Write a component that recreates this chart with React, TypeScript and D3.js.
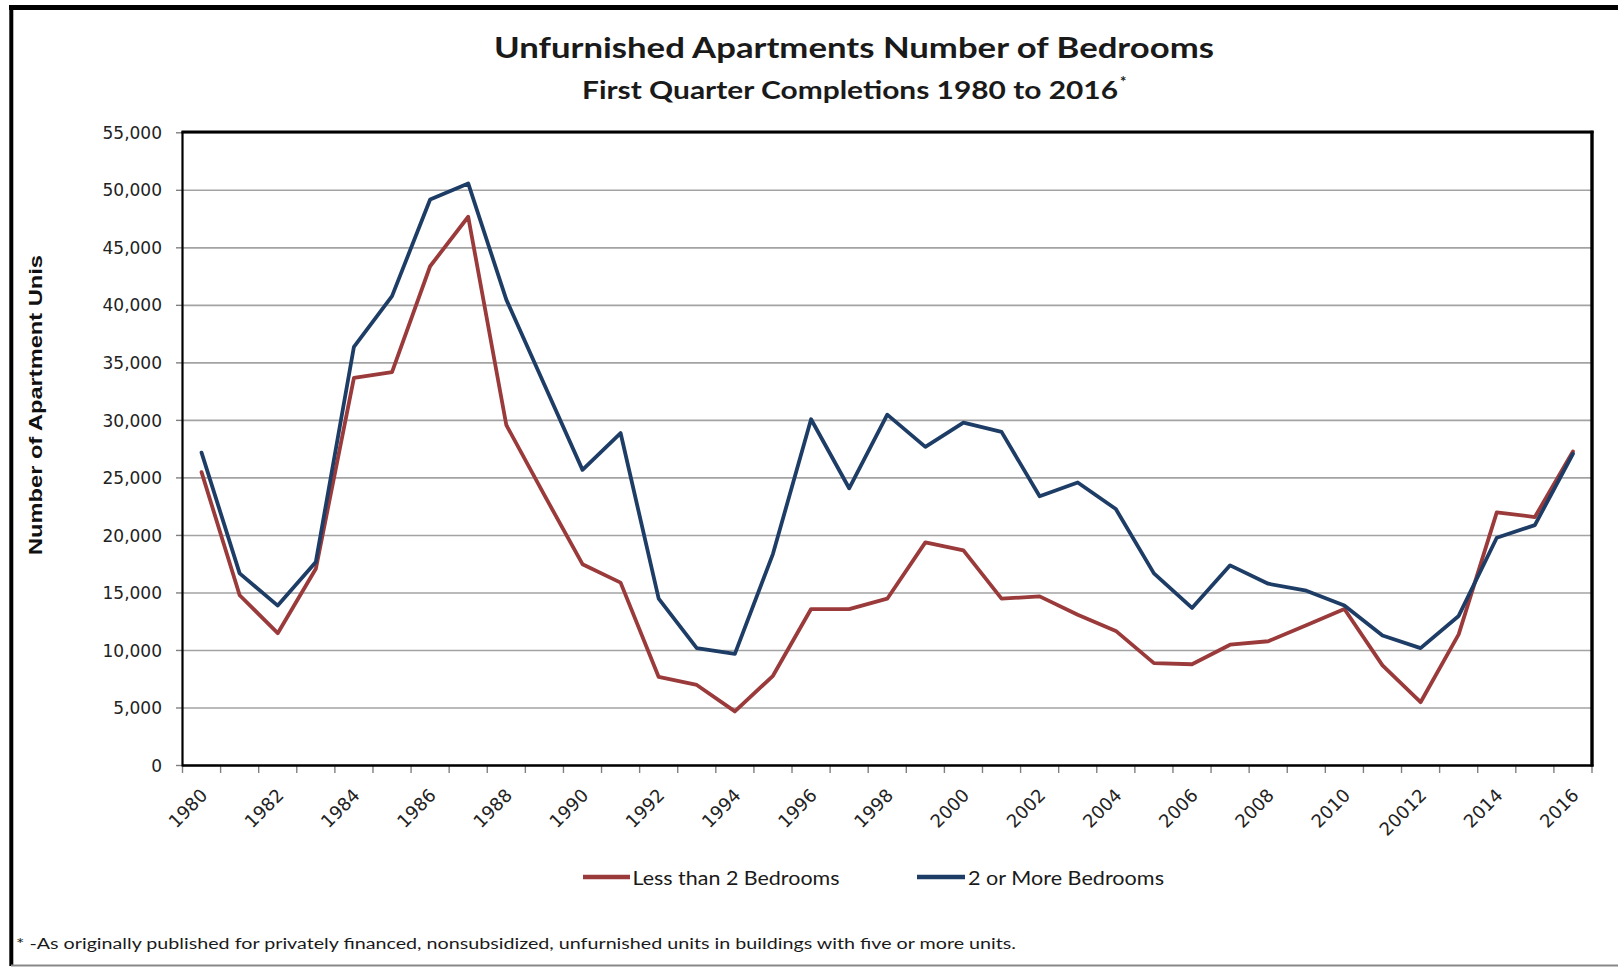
import React from "react";
import * as d3 from "d3";

const years: number[] = [
  1980, 1981, 1982, 1983, 1984, 1985, 1986, 1987, 1988, 1989,
  1990, 1991, 1992, 1993, 1994, 1995, 1996, 1997, 1998, 1999,
  2000, 2001, 2002, 2003, 2004, 2005, 2006, 2007, 2008, 2009,
  2010, 2011, 2012, 2013, 2014, 2015, 2016,
];

const lessThan2: number[] = [
  25500, 14800, 11500, 17100, 33700, 34200, 43400, 47700, 29600, 23500,
  17500, 15900, 7700, 7000, 4700, 7800, 13600, 13600, 14500, 19400,
  18700, 14500, 14700, 13100, 11700, 8900, 8800, 10500, 10800, 12200,
  13600, 8700, 5500, 11400, 22000, 21600, 27300,
];

const twoOrMore: number[] = [
  27200, 16700, 13900, 17700, 36400, 40800, 49200, 50600, 40500, 33100,
  25700, 28900, 14500, 10200, 9700, 18400, 30100, 24100, 30500, 27700,
  29800, 29000, 23400, 24600, 22300, 16700, 13700, 17400, 15800, 15200,
  13900, 11300, 10200, 13000, 19800, 20900, 27100,
];

const labelYears: number[] = [
  1980, 1982, 1984, 1986, 1988, 1990, 1992, 1994, 1996, 1998,
  2000, 2002, 2004, 2006, 2008, 2010, 2012, 2014, 2016,
];
const labelTexts: string[] = [
  "1980", "1982", "1984", "1986", "1988", "1990", "1992", "1994", "1996", "1998",
  "2000", "2002", "2004", "2006", "2008", "2010", "20012", "2014", "2016",
];

const yTicks: number[] = [0, 5000, 10000, 15000, 20000, 25000, 30000, 35000, 40000, 45000, 50000, 55000];

const seriesNames: string[] = ["Less than 2 Bedrooms", "2 or More Bedrooms"];
const seriesColors: string[] = ["#9a3a3a", "#1e3d66"];

export default function App() {
  const W = 1618;
  const H = 967;
  const left = 182.5;
  const right = 1592;
  const top = 132.8;
  const bottom = 765.5;

  const x = d3
    .scaleBand<number>()
    .domain(years)
    .range([left, right])
    .padding(0);
  const y = d3.scaleLinear().domain([0, 55000]).range([bottom, top]);
  const cx = (yr: number) => (x(yr) as number) + x.bandwidth() / 2;

  const line = d3
    .line<number>()
    .x((_, i) => cx(years[i]))
    .y((d) => y(d));

  const boundaries = years.map((yr) => x(yr) as number).concat([right]);
  const fmt = d3.format(",");

  return (
    <svg
      width={W}
      height={H}
      style={{ position: "absolute", left: 0, top: 0, background: "#fff" }}
    >
      <rect x={0} y={0} width={W} height={H} fill="#fff" />
      {/* outer frame */}
      <line x1={9} y1={7.5} x2={W} y2={7.5} stroke="#000" strokeWidth={5} />
      <line x1={11.3} y1={5} x2={11.3} y2={966} stroke="#000" strokeWidth={4} />
      <line x1={11} y1={965.5} x2={W} y2={965.5} stroke="#888" strokeWidth={2} />

      {/* titles */}
      <text
        x={494}
        y={58}
        fontFamily="Lato, 'Open Sans', sans-serif"
        fontWeight={700}
        fontSize={29}
        fill="#1a1a1a"
        textLength={720}
        lengthAdjust="spacingAndGlyphs"
      >
        Unfurnished  Apartments  Number of Bedrooms
      </text>
      <text
        x={582}
        y={98.5}
        fontFamily="Lato, 'Open Sans', sans-serif"
        fontWeight={700}
        fontSize={25}
        fill="#1a1a1a"
        textLength={536}
        lengthAdjust="spacingAndGlyphs"
      >
        First Quarter Completions 1980 to 2016
      </text>
      <text
        x={1120}
        y={87}
        fontFamily="Lato, sans-serif"
        fontWeight={700}
        fontSize={15}
        fill="#1a1a1a"
      >
        *
      </text>

      {/* y axis title */}
      <text
        transform={`translate(42,405) rotate(-90)`}
        textAnchor="middle"
        fontFamily="'Liberation Sans', Arial, sans-serif"
        fontWeight={700}
        fontSize={19}
        fill="#111"
        textLength={300}
        lengthAdjust="spacingAndGlyphs"
      >
        Number of Apartment Unis
      </text>

      {/* gridlines */}
      {yTicks.map((t) => (
        <line
          key={"g" + t}
          x1={left}
          x2={right}
          y1={y(t)}
          y2={y(t)}
          stroke="#a3a3a3"
          strokeWidth={1.6}
        />
      ))}

      {/* y ticks and labels */}
      {yTicks.map((t) => (
        <g key={"yt" + t}>
          <line x1={176} x2={left} y1={y(t)} y2={y(t)} stroke="#808080" strokeWidth={1.4} />
          <text
            x={162}
            y={y(t)}
            dy="0.36em"
            textAnchor="end"
            fontFamily="'DejaVu Sans', Verdana, sans-serif"
            fontSize={17}
            fill="#222"
          >
            {fmt(t)}
          </text>
        </g>
      ))}

      {/* x ticks */}
      {boundaries.map((bx, i) => (
        <line
          key={"xt" + i}
          x1={bx}
          x2={bx}
          y1={bottom}
          y2={bottom + 7.5}
          stroke="#808080"
          strokeWidth={1.4}
        />
      ))}

      {/* x labels */}
      {labelYears.map((yr, i) => (
        <text
          key={"xl" + yr}
          transform={`translate(${cx(yr) + 7},${bottom + 31}) rotate(-45)`}
          textAnchor="end"
          fontFamily="'DejaVu Sans', Verdana, sans-serif"
          fontSize={18}
          fill="#222"
        >
          {labelTexts[i]}
        </text>
      ))}

      {/* frame */}
      <line x1={left} x2={left} y1={top - 1.5} y2={bottom + 1} stroke="#000" strokeWidth={2.2} />
      <line x1={left} x2={right + 1.5} y1={bottom} y2={bottom} stroke="#000" strokeWidth={2.6} />
      <line x1={left - 1} x2={right + 1.5} y1={top - 0.8} y2={top - 0.8} stroke="#000" strokeWidth={3.2} />
      <line x1={right} x2={right} y1={top - 2} y2={bottom + 1} stroke="#000" strokeWidth={3.4} />

      {/* series */}
      <path
        d={line(lessThan2) || ""}
        fill="none"
        stroke={seriesColors[0]}
        strokeWidth={3.8}
        strokeLinejoin="round"
        strokeLinecap="round"
      />
      <path
        d={line(twoOrMore) || ""}
        fill="none"
        stroke={seriesColors[1]}
        strokeWidth={3.8}
        strokeLinejoin="round"
        strokeLinecap="round"
      />

      {/* legend */}
      <line x1={583} x2={630} y1={877} y2={877} stroke={seriesColors[0]} strokeWidth={4.5} />
      <text
        x={632.5}
        y={884.5}
        fontFamily="Lato, 'Open Sans', sans-serif"
        fontSize={18.5}
        fill="#1a1a1a"
        textLength={207}
        lengthAdjust="spacingAndGlyphs"
      >
        {seriesNames[0]}
      </text>
      <line x1={917} x2={965} y1={877} y2={877} stroke={seriesColors[1]} strokeWidth={4.5} />
      <text
        x={968}
        y={884.5}
        fontFamily="Lato, 'Open Sans', sans-serif"
        fontSize={18.5}
        fill="#1a1a1a"
        textLength={196}
        lengthAdjust="spacingAndGlyphs"
      >
        {seriesNames[1]}
      </text>

      {/* footnote */}
      <text
        x={16}
        y={949}
        fontFamily="Lato, 'Open Sans', sans-serif"
        fontSize={15.5}
        fill="#1a1a1a"
        textLength={1000}
        lengthAdjust="spacingAndGlyphs"
      >
        *  -As originally published for privately financed, nonsubsidized, unfurnished units in buildings with five or more units.
      </text>
    </svg>
  );
}
